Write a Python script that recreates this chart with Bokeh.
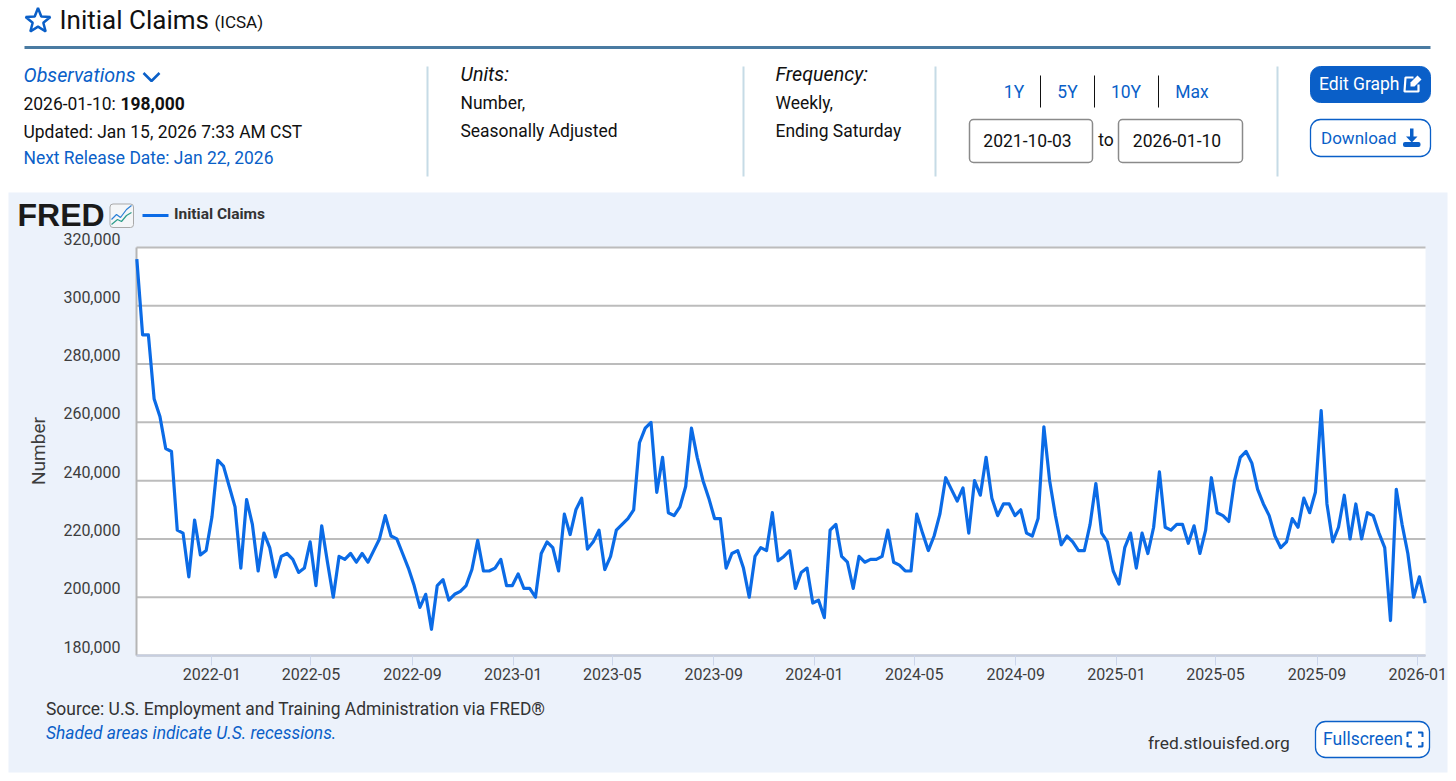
import math
import pandas as pd
from bokeh.plotting import figure
from bokeh.models import (Range1d, FixedTicker, DatetimeTickFormatter, NumeralTickFormatter,
                          LinearAxis, DatetimeAxis, Label, BoxAnnotation, PolyAnnotation)
from bokeh.embed import file_html
from bokeh.resources import INLINE

# ---- data ----
first_week = "2021-10-02"
claims_thousands = [
    316, 290, 290, 268, 262, 251, 250, 223, 222, 207, 226.5, 214.5, 216, 227.5, 247, 245,
    238, 231, 210, 233.5, 225, 209, 222, 217, 207, 214, 215, 213, 208.5, 210, 219, 204,
    224.5, 212, 200, 214, 213, 215, 212, 215, 212, 216, 220, 228, 221, 220, 215, 210,
    204, 196.5, 201, 189, 204, 206, 199, 201, 202, 204, 209.5, 219.5, 209, 209, 210, 213,
    204, 204, 208, 203, 203, 200, 215, 219, 217, 209, 228.5, 221.5, 230, 234, 216.5, 219,
    223, 209.5, 214, 223, 225, 227, 230, 253, 258, 260, 236, 248, 229, 228, 231, 238,
    258, 248, 240, 234, 227, 227, 210, 215, 216, 210, 200, 214, 217, 216, 229, 212.5,
    214, 216, 203, 208.5, 210, 198, 199, 193, 223, 225, 214, 212, 203, 214, 212, 213,
    213, 214, 223, 212, 211, 209, 209, 228.5, 222, 216, 221, 228.5, 241, 237, 233, 237.5,
    222, 240, 235, 248, 234, 228, 232, 232, 228, 230, 222, 221, 227, 258.5, 240, 228,
    218, 221, 219, 216, 216, 225, 239, 222, 219, 209, 204.5, 217, 222, 210, 222, 215,
    224, 243, 224, 223, 225, 225, 218.5, 224.5, 215, 223, 241, 229, 228, 226, 240, 248,
    250, 246, 237, 232, 228, 221, 217, 219, 227, 224, 234, 229, 236, 264, 232, 219,
    224, 235, 220, 232, 220, 229, 228, 222, 217, 192, 237, 225, 215, 200, 207, 198,
]
tick_months = ["2022-01", "2022-05", "2022-09", "2023-01", "2023-05", "2023-09", "2024-01",
               "2024-05", "2024-09", "2025-01", "2025-05", "2025-09", "2026-01"]
y_ticks = [180000, 200000, 220000, 240000, 260000, 280000, 300000, 320000]
series_name = "Initial Claims"

dates = pd.date_range(first_week, periods=len(claims_thousands), freq="7D")
values = [v * 1000 for v in claims_thousands]

def ms(d):
    return pd.Timestamp(d).value / 1e6

# ---- colours / layout (page pixels) ----
BLUE = "#0a5fc8"
LINE = "#0b6be6"
DARK = "#1d1d1d"
GREY = "#3d3d3d"
INK = "#111111"
W, H = 1456, 781
L, R, T, B = 136, 1425, 247, 655
LABEL_LIFT = 9
x0, x1 = ms(first_week) - 0.4 * 86400000, ms(dates[-1]) + 0.4 * 86400000
y0, y1 = 180000, 320000

def X(px):
    return x0 + (px - L) * (x1 - x0) / (R - L)
def Y(py):
    return y0 + (B - py) * (y1 - y0) / (B - T)

# The frame fills the page so that header and footer annotations are not clipped;
# the axes are pinned at the plot-area edges.
p = figure(width=W, height=H, output_backend="svg", toolbar_location=None,
           x_axis_type="datetime", x_axis_location=None, y_axis_location=None,
           x_range=Range1d(X(0), X(W)), y_range=Range1d(Y(H), Y(0)),
           min_border=0, border_fill_color="white", background_fill_color="white", outline_line_color=None)
p.xgrid.visible = False
p.ygrid.visible = False
# labels sit just above their gridlines: the y axis reads a range lifted by a few pixels
p.extra_y_ranges["labels"] = Range1d(Y(H + LABEL_LIFT), Y(LABEL_LIFT))

def txt(px, py, s, size, color=DARK, style="normal", align="left", font="Roboto", angle=0):
    p.add_layout(Label(x=X(px), y=Y(py), text=s, text_font=font, text_font_size=f"{size}px",
                       text_color=color, text_font_style=style, text_align=align, text_baseline="middle",
                       angle=angle))

def box(l, r, t, b, fill=None, line=None, lw=1, radius=0, level="annotation"):
    p.add_layout(BoxAnnotation(left=X(l), right=X(r), top=Y(t), bottom=Y(b), fill_color=fill,
                               fill_alpha=1 if fill else 0, line_color=line, line_width=lw,
                               line_alpha=1 if line else 0, border_radius=radius, level=level))

def poly(points, fill=None, line=None, lw=1, level="annotation"):
    p.add_layout(PolyAnnotation(xs=[X(a) for a, _ in points], ys=[Y(b) for _, b in points],
                                fill_color=fill, fill_alpha=1 if fill else 0, line_color=line,
                                line_width=lw, line_alpha=1 if line else 0, level=level))

def stroke(points, color, lw):
    poly(list(points) + list(points[::-1])[1:-1], None, color, lw)

# panel + plot background
box(8, 1447, 192, 772, fill="#ecf2fb", level="image")
box(L, R, T, B, fill="white", level="image")

# axes
xa = DatetimeAxis(fixed_location=y0, bounds=(x0, x1))
xa.ticker = FixedTicker(ticks=[ms(m + "-01") for m in tick_months])
xa.formatter = DatetimeTickFormatter(months="%Y-%m", days="%Y-%m", hours="%Y-%m", minutes="%Y-%m",
                                     seconds="%Y-%m", milliseconds="%Y-%m", years="%Y-%m",
                                     context=None)
xa.axis_line_color = "#c6cee0"
xa.axis_line_width = 2
xa.major_tick_line_color = "#ccd6eb"
xa.major_tick_out = 10
xa.major_tick_in = 0
xa.minor_tick_line_color = None
xa.major_label_text_font = "Roboto"
xa.major_label_text_font_size = "16px"
xa.major_label_text_color = GREY
xa.major_label_standoff = 2
p.add_layout(xa, "below")

ya = LinearAxis(fixed_location=x0, y_range_name="labels")
ya.ticker = FixedTicker(ticks=y_ticks)
ya.formatter = NumeralTickFormatter(format="0,0")
ya.axis_line_color = None
ya.major_tick_line_color = None
ya.minor_tick_line_color = None
ya.major_label_text_font = "Roboto"
ya.major_label_text_font_size = "16px"
ya.major_label_text_color = GREY
ya.major_label_standoff = 10
p.add_layout(ya, "left")
txt(38, 450.5, "Number", 19, GREY, align="center", angle=math.pi / 2)

# gridlines and left edge of the plot area
p.segment(x0=[x0] * len(y_ticks), y0=y_ticks, x1=[x1] * len(y_ticks), y1=y_ticks,
          line_color="#bcbcbc", line_width=2, level="underlay")
p.segment(x0=[x0], y0=[y0], x1=[x0], y1=[y1], line_color="#b5b5b5", line_width=2, level="underlay")

# series
p.line(dates, values, line_color=LINE, line_width=3.2, line_join="round")

# ---- header ----
star = []
for k in range(10):
    r = 13 if k % 2 == 0 else 5.6
    a = -math.pi / 2 + k * math.pi / 5
    star.append((37.5 + r * math.cos(a), 20.5 + r * math.sin(a)))
poly(star, None, BLUE, 2.5)
txt(59, 19, "Initial Claims", 26, INK)
txt(214, 21, "(ICSA)", 17, INK)
box(24, 1430, 45.5, 48.5, fill="#4a7ba2")

for sep_x in (427, 743, 935, 1277):
    box(sep_x - 1, sep_x + 1, 66, 176, fill="#c6dbe6")

txt(23, 75, "Observations", 19.7, BLUE, "italic")
stroke([(143, 72.5), (151, 80.5), (159, 72.5)], BLUE, 2.5)
txt(23, 103, "2026-01-10:", 17.45, INK)
txt(120, 103, "198,000", 17.45, INK, "bold")
txt(23, 131, "Updated: Jan 15, 2026 7:33 AM CST", 17.45, INK)
txt(23, 157, "Next Release Date: Jan 22, 2026", 17.45, BLUE)

txt(460, 74, "Units:", 19.7, INK, "italic")
txt(460, 102, "Number,", 17.45, INK)
txt(460, 130, "Seasonally Adjusted", 17.45, INK)
txt(775, 74, "Frequency:", 19.7, INK, "italic")
txt(775, 102, "Weekly,", 17.45, INK)
txt(775, 130, "Ending Saturday", 17.45, INK)

for label, cx in (("1Y", 1013.5), ("5Y", 1067), ("10Y", 1125.5), ("Max", 1191.5)):
    txt(cx, 91, label, 17.5, BLUE, align="center")
for bx in (1040, 1094, 1158):
    box(bx - 0.5, bx + 0.5, 75, 107, fill=INK)
box(969, 1092, 119, 162, fill="white", line="#8a8a8a", lw=1.5, radius=4)
box(1118, 1242, 119, 162, fill="white", line="#8a8a8a", lw=1.5, radius=4)
txt(1027, 140, "2021-10-03", 17.5, INK, align="center")
txt(1105.5, 139, "to", 17.5, INK, align="center")
txt(1176.5, 140, "2026-01-10", 17.5, INK, align="center")

box(1310, 1430, 66, 102, fill="#0a5fc8", line="#0a5fc8", radius=10)
txt(1318.5, 83, "Edit Graph", 17.5, "white")
stroke([(1413, 77), (1405, 77), (1404, 91), (1418, 91), (1418, 84)], "white", 2.2)
poly([(1410, 82), (1417, 75), (1421, 79), (1414, 86), (1410, 86)], "white")
box(1310, 1430, 119, 156, fill="white", line=BLUE, lw=1.3, radius=10)
txt(1320.5, 137, "Download", 17, BLUE)
poly([(1409.5, 128), (1413, 128), (1413, 136), (1417, 136), (1411.3, 142), (1405.5, 136), (1409.5, 136)], BLUE)
box(1402.5, 1420, 141.5, 146.5, fill=BLUE, radius=2)

# ---- chart chrome ----
txt(17, 214, "FRED", 32, "#1a1a1a", "bold", font="Liberation Sans")
box(109.5, 133, 203.5, 227, fill="#f4f6f8", line="#a9a9a9", radius=3)
stroke([(111, 219), (116, 214), (120, 217), (126, 209), (131, 205)], "#2a7fd6", 1.2)
stroke([(111, 224), (117, 219), (121, 221), (126, 215), (131, 212)], "#2d9d8a", 1.2)
box(142, 168, 213.5, 216.5, fill=LINE)
txt(173.5, 213.5, series_name, 15.5, "#333333", "bold")

txt(45.5, 708, "Source: U.S. Employment and Training Administration via FRED®", 17.45, "#333333")
txt(45.5, 732, "Shaded areas indicate U.S. recessions.", 17.4, BLUE, "italic")
txt(1147.5, 742, "fred.stlouisfed.org", 17.4, "#333333")

box(1315, 1429, 721, 757, fill="white", line=BLUE, lw=1.3, radius=10)
txt(1322.5, 738, "Fullscreen", 17.5, BLUE)
for cx, cy, sx, sy in ((1407, 732, 1, 1), (1422, 732, -1, 1), (1407, 746, 1, -1), (1422, 746, -1, -1)):
    stroke([(cx, cy + 4.5 * sy), (cx, cy), (cx + 4.5 * sx, cy)], BLUE, 2)

open("out.html", "w").write(file_html(p, INLINE))
